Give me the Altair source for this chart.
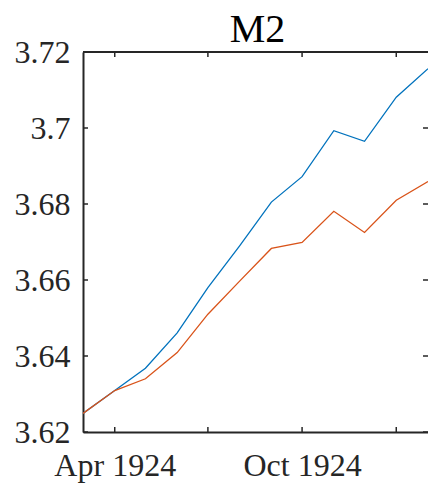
import altair as alt
import pandas as pd

title_text = ["M2"]
months = ["1924-03-01", "1924-04-01", "1924-05-01", "1924-06-01", "1924-07-01", "1924-08-01",
          "1924-09-01", "1924-10-01", "1924-11-01", "1924-12-01", "1925-01-01", "1925-02-01"]
series_a = [3.6249, 3.6309, 3.6368, 3.6461, 3.6580, 3.6690, 3.6805, 3.6872, 3.6993, 3.6965, 3.7081, 3.7156]
series_b = [3.6249, 3.6309, 3.6340, 3.6409, 3.6510, 3.6597, 3.6683, 3.6699, 3.6781, 3.6725, 3.6810, 3.6859]
x_ticks = ["1924-04-01", "1924-07-01", "1924-10-01", "1925-01-01"]
y_ticks = [3.62, 3.64, 3.66, 3.68, 3.70, 3.72]

W, H = 345, 380
FONT = "Liberation Serif"
INK = "#262626"

df = pd.DataFrame({
    "date": months * 2,
    "value": series_a + series_b,
    "series": ["A"] * len(months) + ["B"] * len(months),
})
xt = pd.DataFrame({"date": x_ticks})
yt = pd.DataFrame({"v": y_ticks})
tt = pd.DataFrame({"t": title_text})

xscale = alt.Scale(type="utc",
                   domain=[alt.DateTime(year=1924, month=3, date=1, utc=True),
                           alt.DateTime(year=1925, month=2, date=1, utc=True)])
yscale = alt.Scale(domain=[3.62, 3.72], nice=False, zero=False)

lines = alt.Chart(df).mark_line(strokeWidth=1.3, clip=True).encode(
    x=alt.X("date:T", scale=xscale, title=None,
            axis=alt.Axis(values=[alt.DateTime(year=1924, month=4, date=1, utc=True),
                                  alt.DateTime(year=1924, month=10, date=1, utc=True)],
                          format="%b %Y", ticks=False, grid=False, domainColor=INK,
                          domainWidth=2, labelFont=FONT, labelFontSize=32, labelColor=INK,
                          labelPadding=18, labelFlush=False, labelOverlap=False)),
    y=alt.Y("value:Q", scale=yscale, title=None,
            axis=alt.Axis(values=y_ticks, format=".2~f", ticks=False, grid=False,
                          domainColor=INK, domainWidth=2, labelFont=FONT, labelFontSize=32,
                          labelColor=INK, labelPadding=13, labelOverlap=False)),
    color=alt.Color("series:N", scale=alt.Scale(domain=["A", "B"], range=["#0072BD", "#D95319"]),
                    legend=None),
)

bx = alt.Chart(xt).mark_rule(color=INK, strokeWidth=1.5).encode(
    x=alt.X("date:T", scale=xscale), y=alt.value(H), y2=alt.value(H - 5))
tx = alt.Chart(xt).mark_rule(color=INK, strokeWidth=1.5).encode(
    x=alt.X("date:T", scale=xscale), y=alt.value(0), y2=alt.value(5))
ly = alt.Chart(yt).mark_rule(color=INK, strokeWidth=1.5).encode(
    y=alt.Y("v:Q", scale=yscale), x=alt.value(0), x2=alt.value(5))
ry = alt.Chart(yt).mark_rule(color=INK, strokeWidth=1.5).encode(
    y=alt.Y("v:Q", scale=yscale), x=alt.value(W - 5), x2=alt.value(W))
top = alt.Chart(yt).mark_rule(color=INK, strokeWidth=2).encode(
    x=alt.value(0), x2=alt.value(W), y=alt.value(0))
title = alt.Chart(tt).mark_text(font=FONT, fontSize=40, color="#000000", align="center",
                                baseline="alphabetic").encode(
    text="t:N", x=alt.value(W / 2 + 2), y=alt.value(-10))

chart = alt.layer(lines, bx, tx, ly, ry, top, title).properties(
    width=W, height=H,
    autosize=alt.AutoSizeParams(type="none"),
    padding={"left": 75, "top": 44, "right": 0, "bottom": 51},
).configure_view(stroke=None)

chart.save("out.html", embed_options={"renderer": "svg", "actions": False})
